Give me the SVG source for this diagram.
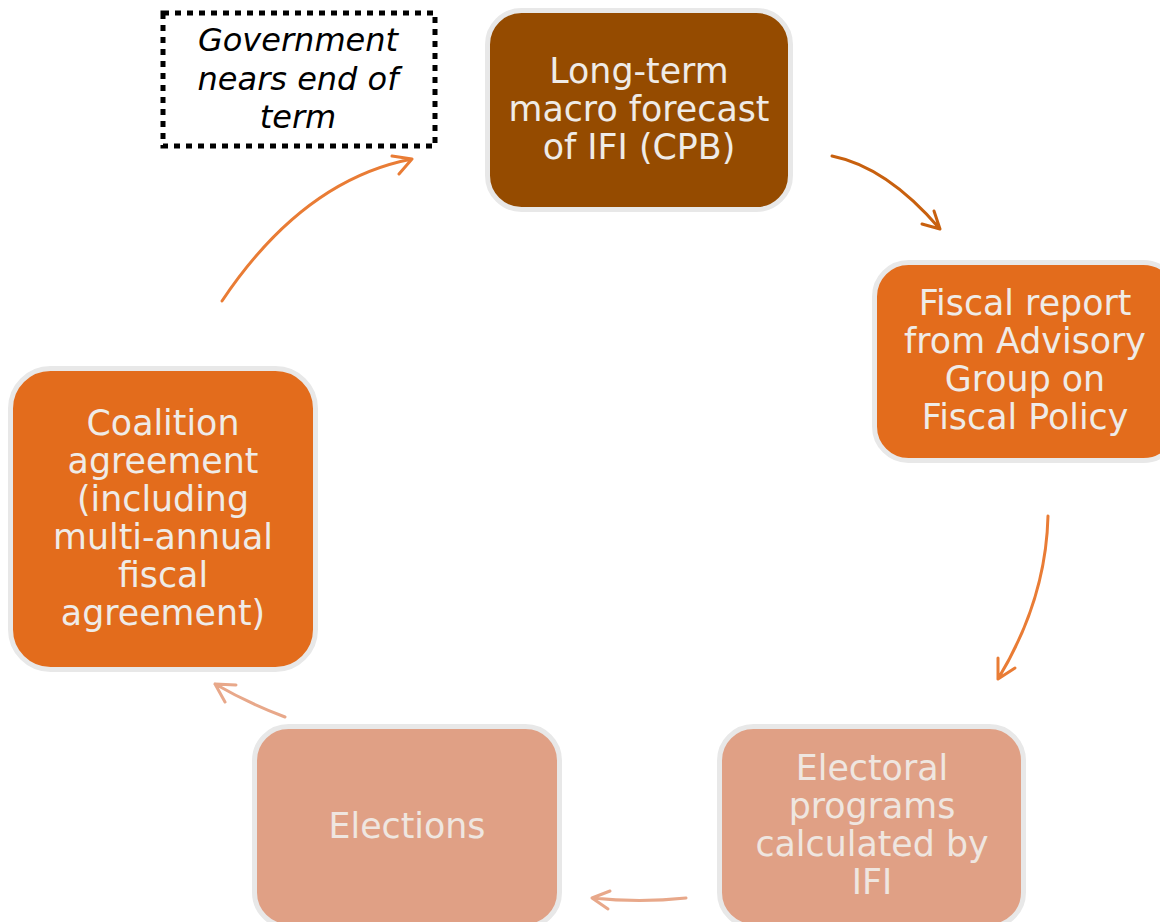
<svg xmlns="http://www.w3.org/2000/svg" width="1160" height="922" viewBox="0 0 1160 922">
<style>
.node{stroke:#e8e8e8;stroke-width:5}
.dark{fill:#954b00}
.orange{fill:#e36c1c}
.salmon{fill:#e0a085}
.t{font-family:"DejaVu Sans",Verdana,sans-serif;font-size:34.8px;fill:#efebe7;text-anchor:middle}
.ts{fill:#efe6e0}
.gov{font-family:"DejaVu Sans",Verdana,sans-serif;font-size:32px;font-style:italic;fill:#000;text-anchor:middle}
.c{fill:none;stroke-width:3;stroke-linecap:round;stroke-linejoin:round}
</style>
<rect width="1160" height="922" fill="#fff"/>
<g id="connectors">
  <path class="c" stroke="#c8600e" d="M832,156 Q887,167 940,229 M922,224 L940,229 L934,211"/>
  <path class="c" stroke="#e97c35" d="M1048,516 Q1046,600 998,679 M998,658 L998,679 L1015,668"/>
  <path class="c" stroke="#e8a88a" d="M686,898 Q640,903 592,898 M610,891 L592,898 L608,909"/>
  <path class="c" stroke="#e8a88a" d="M285,717 Q248,703 215,684 M236,685 L215,684 L225,702"/>
  <path class="c" stroke="#e97c35" d="M222,301 Q303,180 412,159 M392,156 L412,159 L399,174"/>
</g>
<g id="gov">
  <rect x="163" y="13" width="272" height="133" fill="none" stroke="#000" stroke-width="5" stroke-dasharray="6 6"/>
  <text class="gov" x="298" y="51">Government</text>
  <text class="gov" x="298" y="90">nears end of</text>
  <text class="gov" x="298" y="128">term</text>
</g>
<g id="forecast">
  <rect class="node dark" x="487.5" y="10.5" width="303" height="199" rx="34"/>
  <text class="t" x="639" y="83">Long-term</text>
  <text class="t" x="639" y="121">macro forecast</text>
  <text class="t" x="639" y="159">of IFI (CPB)</text>
</g>
<g id="fiscalreport">
  <rect class="node orange" x="874.5" y="262.5" width="303" height="198" rx="34"/>
  <text class="t" x="1025" y="315">Fiscal report</text>
  <text class="t" x="1025" y="353">from Advisory</text>
  <text class="t" x="1025" y="391">Group on</text>
  <text class="t" x="1025" y="429">Fiscal Policy</text>
</g>
<g id="electoral">
  <rect class="node salmon" x="719.5" y="726.5" width="304" height="200" rx="34"/>
  <text class="t ts" x="872" y="780">Electoral</text>
  <text class="t ts" x="872" y="818">programs</text>
  <text class="t ts" x="872" y="856">calculated by</text>
  <text class="t ts" x="872" y="894">IFI</text>
</g>
<g id="elections">
  <rect class="node salmon" x="254.5" y="726.5" width="305" height="200" rx="34"/>
  <text class="t ts" x="407" y="838">Elections</text>
</g>
<g id="coalition">
  <rect class="node orange" x="10.5" y="368.5" width="305" height="301" rx="40"/>
  <text class="t" x="163" y="435">Coalition</text>
  <text class="t" x="163" y="473">agreement</text>
  <text class="t" x="163" y="511">(including</text>
  <text class="t" x="163" y="549">multi-annual</text>
  <text class="t" x="163" y="587">fiscal</text>
  <text class="t" x="163" y="625">agreement)</text>
</g>
</svg>
